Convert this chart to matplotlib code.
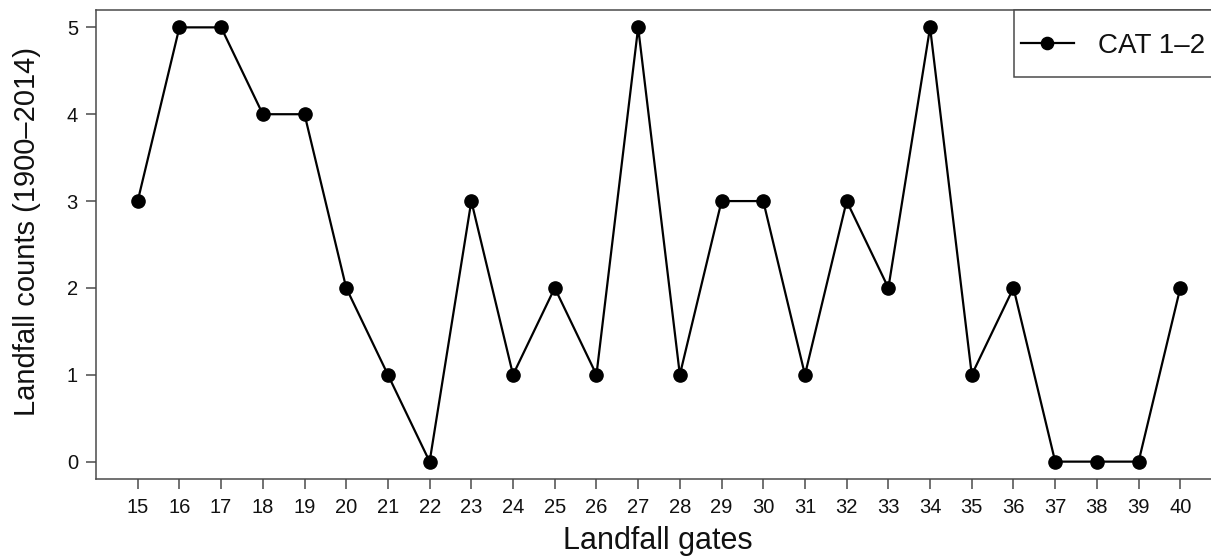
import matplotlib
matplotlib.use("Agg")
import matplotlib.pyplot as plt
from matplotlib.lines import Line2D
from matplotlib.patches import Rectangle

gates = [15, 16, 17, 18, 19, 20, 21, 22, 23, 24, 25, 26, 27, 28, 29, 30,
         31, 32, 33, 34, 35, 36, 37, 38, 39, 40]
counts = [3, 5, 5, 4, 4, 2, 1, 0, 3, 1, 2, 1, 5, 1, 3, 3,
          1, 3, 2, 5, 1, 2, 0, 0, 0, 2]
yticks = [0, 1, 2, 3, 4, 5]
series_label = "CAT 1\u20132"
xlabel = "Landfall gates"
ylabel = "Landfall counts (1900\u20132014)"

plt.rcParams['font.family'] = ['Liberation Sans', 'DejaVu Sans']

W, H, DPI = 1211, 556, 100
fig = plt.figure(figsize=(W / DPI, H / DPI), dpi=DPI)
left, right, top, bottom = 96, 1222, 10, 479
ax = fig.add_axes([left / W, (H - bottom) / H, (right - left) / W, (bottom - top) / H])

line_kw = dict(color='black', linewidth=1.6, marker='o', markersize=9.5,
               markerfacecolor='black', markeredgecolor='black')
ax.plot(gates, counts, label=series_label, **line_kw)

ax.set_xlim(14, 41)
ax.set_ylim(-0.2, 5.2)
ax.set_xticks(gates)
ax.set_xticklabels([str(g) for g in gates])
ax.set_yticks(yticks)
ax.set_yticklabels([str(v) for v in yticks])

edge = '#4a4a4a'
for s in ax.spines.values():
    s.set_color(edge)
    s.set_linewidth(1.1)
ax.tick_params(axis='both', length=7, width=1.1, color=edge, labelsize=14.5,
               labelcolor='#111111')
ax.tick_params(axis='x', pad=7)
ax.tick_params(axis='y', pad=6)

fig.text(658 / W, (H - 549) / H, xlabel, ha='center', va='baseline',
         fontsize=22, color='#111111')
fig.text(27 / W, (H - 231) / H, ylabel, ha='center', va='center',
         rotation=90, fontsize=21, color='#111111')

# legend box (R-style, top-right corner of plot region)
def fx(px):
    return px / W

def fy(py):
    return (H - py) / H

box = Rectangle((fx(1014), fy(77)), fx(1222) - fx(1014), fy(10) - fy(77),
                transform=fig.transFigure, facecolor='white', edgecolor=edge,
                linewidth=1.1, zorder=5)
fig.add_artist(box)
fig.add_artist(Line2D([fx(1021), fx(1074)], [fy(43), fy(43)],
                      transform=fig.transFigure, color='black', linewidth=1.6,
                      zorder=6))
fig.add_artist(Line2D([fx(1047)], [fy(43)], transform=fig.transFigure,
                      linestyle='none', marker='o', markersize=8.8,
                      color='black', zorder=7))
fig.text(fx(1098), fy(53), series_label, ha='left', va='baseline',
         fontsize=20, color='#111111', zorder=7)

fig.savefig("out.png", dpi=DPI)
